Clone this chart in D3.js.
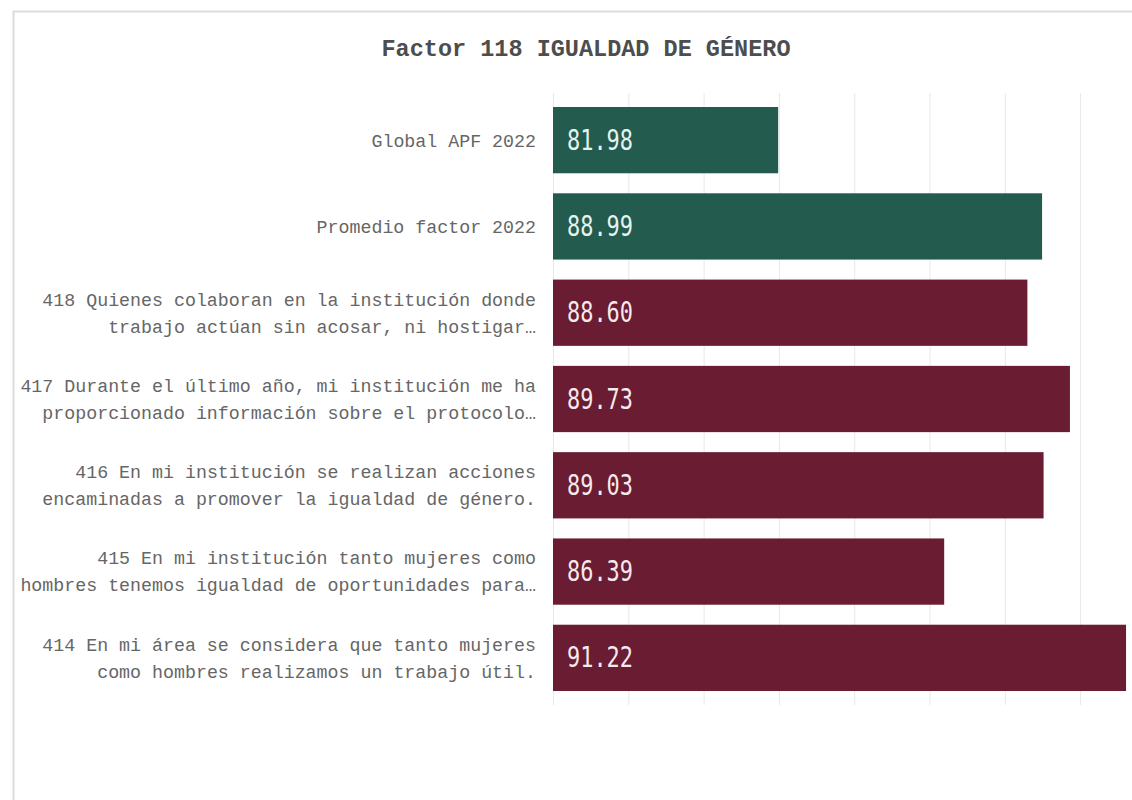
<!DOCTYPE html>
<html lang="es">
<head>
<meta charset="utf-8">
<title>Factor 118 IGUALDAD DE GÉNERO</title>
<script src="https://cdn.jsdelivr.net/npm/d3@7"></script>
<style>
  html, body { margin: 0; padding: 0; background: #ffffff; }
  svg { display: block; }
</style>
</head>
<body>
<svg id="chart" width="1132" height="800"></svg>
<script>
// Reactivos del factor 118 (de arriba hacia abajo)
const categories = [
  ["Global APF 2022"],
  ["Promedio factor 2022"],
  ["418 Quienes colaboran en la institución donde", "trabajo actúan sin acosar, ni hostigar…"],
  ["417 Durante el último año, mi institución me ha", "proporcionado información sobre el protocolo…"],
  ["416 En mi institución se realizan acciones", "encaminadas a promover la igualdad de género."],
  ["415 En mi institución tanto mujeres como", "hombres tenemos igualdad de oportunidades para…"],
  ["414 En mi área se considera que tanto mujeres", "como hombres realizamos un trabajo útil."]
];
const values = [81.98, 88.99, 88.60, 89.73, 89.03, 86.39, 91.22];
const groups = ["ref", "ref", "item", "item", "item", "item", "item"];
const gridTicks = [76, 78, 80, 82, 84, 86, 88, 90, 92];
const title = "Factor 118 IGUALDAD DE GÉNERO";

const W = 1132, H = 800;
const svg = d3.select("#chart");

const colorOf = d3.scaleOrdinal().domain(["ref", "item"]).range(["#235b4e", "#691c32"]);

const x = d3.scaleLinear().domain([76, 92]).range([553, 1155.4]);
const y = d3.scaleBand()
  .domain(d3.range(values.length))
  .range([97, 701])
  .paddingInner(0.232)
  .paddingOuter(0.116);

// marco del gráfico
svg.append("path")
  .attr("d", `M${W},11.5 H13.5 V${H}`)
  .attr("fill", "none")
  .attr("stroke", "#dcdcdc")
  .attr("stroke-width", 2);

// título
svg.append("text")
  .attr("x", 586)
  .attr("y", 56)
  .attr("text-anchor", "middle")
  .attr("font-family", "'Courier New', 'Liberation Mono', monospace")
  .attr("font-weight", "bold")
  .attr("font-size", 23.5)
  .attr("fill", "#4d4d4d")
  .text(title);

// líneas de cuadrícula verticales
const gridAxis = d3.axisBottom(x)
  .tickValues(gridTicks)
  .tickSize(-(705 - 93))
  .tickFormat("");
const grid = svg.append("g")
  .attr("transform", "translate(0,705)")
  .call(gridAxis);
grid.select(".domain").remove();
grid.selectAll(".tick line").attr("stroke", "#e8e8e8").attr("stroke-width", 1);

// barras
svg.append("g").selectAll("rect")
  .data(values)
  .join("rect")
  .attr("x", x(76))
  .attr("y", (d, i) => y(i))
  .attr("width", d => x(d) - x(76))
  .attr("height", y.bandwidth())
  .attr("fill", (d, i) => colorOf(groups[i]));

// valores dentro de las barras
svg.append("g").selectAll("text")
  .data(values)
  .join("text")
  .attr("x", x(76) + 14)
  .attr("y", (d, i) => y(i) + y.bandwidth() / 2 + 9.5)
  .attr("font-family", "'DejaVu Sans Mono', monospace")
  .attr("font-size", 29)
  .attr("textLength", d => d.toFixed(2).length * 13.2)
  .attr("lengthAdjust", "spacingAndGlyphs")
  .attr("fill", (d, i) => groups[i] === "ref" ? "#e6f2ee" : "#f6e9ec")
  .text(d => d.toFixed(2));

// etiquetas de categoría
const lineGap = 27;
const labels = svg.append("g")
  .attr("font-family", "'Courier New', 'Liberation Mono', monospace")
  .attr("font-size", 18.3)
  .attr("fill", "#666666")
  .attr("text-anchor", "end");

labels.selectAll("text")
  .data(categories)
  .join("text")
  .attr("transform", (d, i) => `translate(536,${y(i) + y.bandwidth() / 2})`)
  .each(function (lines) {
    const t = d3.select(this);
    const first = -(lines.length - 1) * lineGap / 2;
    lines.forEach((ln, k) => {
      t.append("tspan")
        .attr("x", 0)
        .attr("y", first + k * lineGap)
        .attr("dy", "0.35em")
        .text(ln);
    });
  });
</script>
</body>
</html>
